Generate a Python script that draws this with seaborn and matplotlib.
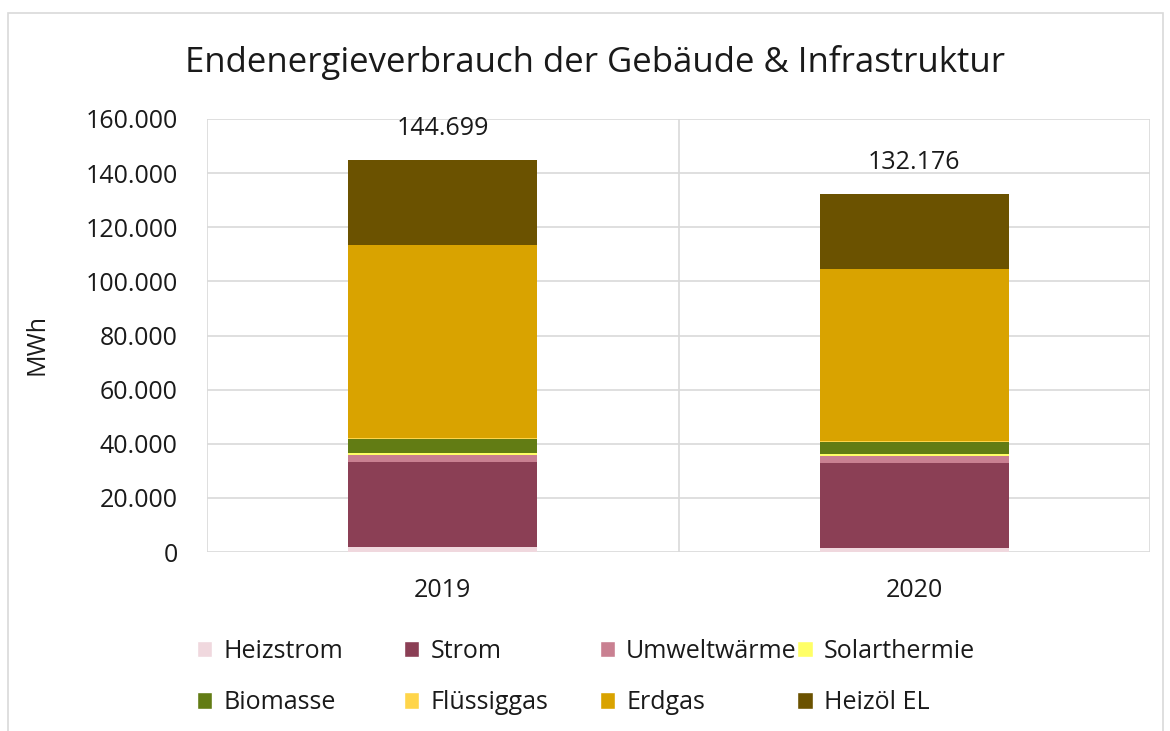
import pandas as pd
import seaborn as sns
import matplotlib.pyplot as plt
from matplotlib.patches import Patch, Rectangle
from matplotlib.ticker import FuncFormatter

# Jahre und Energieträger (MWh), von unten nach oben gestapelt
years = ['2019', '2020']
carriers = ['Heizstrom', 'Strom', 'Umweltwärme', 'Solarthermie',
            'Biomasse', 'Flüssiggas', 'Erdgas', 'Heizöl EL']
heizstrom = [1800, 1600]
strom = [31600, 31400]
umweltwaerme = [2400, 2500]
solarthermie = [700, 600]
biomasse = [5300, 4700]
fluessiggas = [200, 200]
erdgas = [71400, 63600]
heizoel = [31299, 27576]
totals = [144699, 132176]

colors = ['#f0d8de', '#8b3f55', '#c98091', '#ffff66',
          '#627c14', '#ffd54a', '#d9a300', '#6b5200']

df = pd.DataFrame({'Jahr': years, 'Heizstrom': heizstrom, 'Strom': strom,
                   'Umweltwärme': umweltwaerme, 'Solarthermie': solarthermie,
                   'Biomasse': biomasse, 'Flüssiggas': fluessiggas,
                   'Erdgas': erdgas, 'Heizöl EL': heizoel})

sns.set_style('white')
plt.rcParams['font.family'] = ['Open Sans', 'DejaVu Sans']

fig = plt.figure(figsize=(11.7, 7.31), dpi=100)
ax = fig.add_axes([207 / 1170, 1 - 552 / 731, 943 / 1170, 433 / 731])

# Rahmen um das Diagramm
fig.patches.append(Rectangle((8 / 1170, -0.05), 1155 / 1170, 1.05 - 13 / 731,
                             transform=fig.transFigure, fill=False,
                             edgecolor='#d9d9d9', linewidth=1.2, zorder=0))

bottom = [0, 0]
for name, col in zip(carriers, colors):
    sns.barplot(data=df, x='Jahr', y=name, color=col, width=0.4, saturation=1,
                bottom=bottom, ax=ax, linewidth=0, zorder=3)
    bottom = [b + v for b, v in zip(bottom, df[name])]

for i, t in enumerate(totals):
    ax.text(i, t + 11800, f'{t:,}'.replace(',', '.'), ha='center', va='center',
            fontsize=18, color='#1a1a1a')

ax.set_ylim(0, 160000)
ax.set_xlim(-0.5, 1.5)
ax.set_yticks(range(0, 160001, 20000))
ax.yaxis.set_major_formatter(FuncFormatter(lambda v, p: f'{int(v):,}'.replace(',', '.')))
ax.grid(axis='y', color='#d9d9d9', linewidth=1.2, zorder=0)
for xv in [-0.5, 0.5, 1.5]:
    ax.axvline(xv, color='#d9d9d9', linewidth=1.2, zorder=0)
for s in ax.spines.values():
    s.set_visible(False)
ax.tick_params(axis='both', length=0, labelsize=18, colors='#1a1a1a')
ax.tick_params(axis='y', pad=21)
ax.tick_params(axis='x', pad=19)
ax.set_xlabel('')
ax.set_ylabel('MWh', fontsize=18, color='#1a1a1a')
ax.yaxis.set_label_coords(-157 / 943, 0.48)

fig.text(595 / 1170, 1 - 62 / 731, 'Endenergieverbrauch der Gebäude & Infrastruktur',
         ha='center', va='center', fontsize=25, color='#1a1a1a')

# Legende: 4 Spalten mit festen Positionen
col_x = [184, 391, 587, 785]
for c in range(4):
    handles = [Patch(facecolor=colors[c], label=carriers[c]),
               Patch(facecolor=colors[c + 4], label=carriers[c + 4])]
    fig.legend(handles=handles, loc='upper left',
               bbox_to_anchor=(col_x[c] / 1170, 1 - 626 / 731),
               frameon=False, fontsize=18, handlelength=0.62, handleheight=0.62,
               handletextpad=0.45, labelspacing=1.07, borderpad=0,
               labelcolor='#1a1a1a')

fig.savefig('out.png', dpi=100)
